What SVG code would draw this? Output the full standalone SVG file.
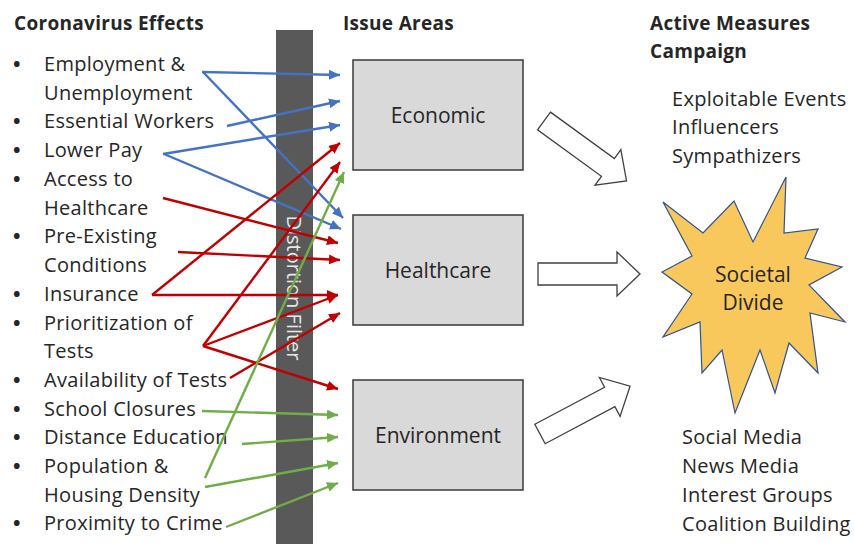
<svg xmlns="http://www.w3.org/2000/svg" width="854" height="544" viewBox="0 0 854 544">
  <style>
    text { font-family: "Open Sans", "Liberation Sans", Arial, sans-serif; fill: #262626; }
    .hd { font-size: 19px; font-weight: bold; letter-spacing: 0.3px; }
    .it { font-size: 20px; letter-spacing: 0.3px; }
    .bul { font-size: 20px; font-weight: bold; }
    .bx { fill: #d9d9d9; stroke: #3a3a3a; stroke-width: 1.5; }
    .lbl { font-size: 21px; text-anchor: middle; }
    .blk { fill: #ffffff; stroke: #404040; stroke-width: 1.3; stroke-linejoin: miter; }
    .c path { fill: none; stroke-width: 2.4; }
    .b { stroke: #4472c4; }
    .r { stroke: #c00000; }
    .g { stroke: #70ad47; }
  </style>
  <defs>
    <marker id="ab" markerUnits="userSpaceOnUse" markerWidth="12" markerHeight="10" refX="11" refY="5" orient="auto">
      <path d="M0,0 L11,5 L0,10 Z" fill="#4472c4"/>
    </marker>
    <marker id="ar" markerUnits="userSpaceOnUse" markerWidth="12" markerHeight="10" refX="11" refY="5" orient="auto">
      <path d="M0,0 L11,5 L0,10 Z" fill="#c00000"/>
    </marker>
    <marker id="ag" markerUnits="userSpaceOnUse" markerWidth="12" markerHeight="10" refX="11" refY="5" orient="auto">
      <path d="M0,0 L11,5 L0,10 Z" fill="#70ad47"/>
    </marker>
    <path id="blockArrow" d="M0,-11 L79,-11 L79,-22 L102,0 L79,22 L79,11 L0,11 Z"/>
  </defs>

  <rect width="854" height="544" fill="#ffffff"/>

  <!-- column headings -->
  <text class="hd" x="14" y="30">Coronavirus Effects</text>
  <text class="hd" x="343" y="30">Issue Areas</text>
  <text class="hd" x="650" y="30">Active Measures</text>
  <text class="hd" x="650" y="58">Campaign</text>

  <!-- effects list -->
  <g id="effects" class="it">
    <g class="bul">
      <text x="13" y="71">•</text>
      <text x="13" y="128">•</text>
      <text x="13" y="157">•</text>
      <text x="13" y="186">•</text>
      <text x="13" y="243">•</text>
      <text x="13" y="301">•</text>
      <text x="13" y="330">•</text>
      <text x="13" y="387">•</text>
      <text x="13" y="416">•</text>
      <text x="13" y="444">•</text>
      <text x="13" y="473">•</text>
      <text x="13" y="530">•</text>
    </g>
    <text x="44" y="71">Employment &amp;</text>
    <text x="44" y="100">Unemployment</text>
    <text x="44" y="128">Essential Workers</text>
    <text x="44" y="157">Lower Pay</text>
    <text x="44" y="186">Access to</text>
    <text x="44" y="215">Healthcare</text>
    <text x="44" y="243">Pre-Existing</text>
    <text x="44" y="272">Conditions</text>
    <text x="44" y="301">Insurance</text>
    <text x="44" y="330">Prioritization of</text>
    <text x="44" y="358">Tests</text>
    <text x="44" y="387">Availability of Tests</text>
    <text x="44" y="416">School Closures</text>
    <text x="44" y="444">Distance Education</text>
    <text x="44" y="473">Population &amp;</text>
    <text x="44" y="502">Housing Density</text>
    <text x="44" y="530">Proximity to Crime</text>
  </g>

  <!-- distortion filter bar -->
  <g id="filter">
    <rect x="276" y="30" width="37" height="514" fill="#595959"/>
    <text x="0" y="0" transform="translate(287,288) rotate(90)" style="font-size:20px;fill:#e8e8e8" text-anchor="middle">Distortion Filter</text>
  </g>

  <!-- issue areas -->
  <g id="economic">
    <rect class="bx" x="353" y="60" width="170" height="110"/>
    <text class="lbl" x="438" y="123">Economic</text>
  </g>
  <g id="healthcare">
    <rect class="bx" x="353" y="215" width="170" height="110"/>
    <text class="lbl" x="438" y="278">Healthcare</text>
  </g>
  <g id="environment">
    <rect class="bx" x="353" y="380" width="170" height="110"/>
    <text class="lbl" x="438" y="443">Environment</text>
  </g>

  <!-- effect-to-area connectors -->
  <g id="connectors" class="c">
    <path class="b" d="M202,72 L340,75" marker-end="url(#ab)"/>
    <path class="b" d="M203,72 L343,218" marker-end="url(#ab)"/>
    <path class="b" d="M227,126 L340,101" marker-end="url(#ab)"/>
    <path class="b" d="M163,154 L340,125" marker-end="url(#ab)"/>
    <path class="b" d="M164,154 L341,229" marker-end="url(#ab)"/>

    <path class="r" d="M163,198 L338,243" marker-end="url(#ar)"/>
    <path class="r" d="M178,252 L340,260" marker-end="url(#ar)"/>
    <path class="r" d="M152,295 L340,143" marker-end="url(#ar)"/>
    <path class="r" d="M152,295 L338,295" marker-end="url(#ar)"/>
    <path class="r" d="M203,346 L340,162" marker-end="url(#ar)"/>
    <path class="r" d="M203,346 L338,295" marker-end="url(#ar)"/>
    <path class="r" d="M203,346 L338,389" marker-end="url(#ar)"/>
    <path class="r" d="M230,378 L340,313" marker-end="url(#ar)"/>

    <path class="g" d="M205,478 L344,172" marker-end="url(#ag)"/>
    <path class="g" d="M205,487 L338,463" marker-end="url(#ag)"/>
    <path class="g" d="M202,411 L338,415" marker-end="url(#ag)"/>
    <path class="g" d="M242,444 L338,437" marker-end="url(#ag)"/>
    <path class="g" d="M226,527 L338,483" marker-end="url(#ag)"/>
  </g>

  <!-- block arrows into the campaign -->
  <g id="flows">
    <use href="#blockArrow" class="blk" transform="translate(544,121) rotate(36)"/>
    <use href="#blockArrow" class="blk" transform="translate(538,274)"/>
    <use href="#blockArrow" class="blk" transform="translate(540,434) rotate(-28)"/>
  </g>

  <!-- campaign inputs and outlets -->
  <g id="inputs" class="it">
    <text x="672" y="106">Exploitable Events</text>
    <text x="672" y="134">Influencers</text>
    <text x="672" y="163">Sympathizers</text>
  </g>
  <g id="outlets" class="it">
    <text x="682" y="444">Social Media</text>
    <text x="682" y="473">News Media</text>
    <text x="682" y="502">Interest Groups</text>
    <text x="682" y="531">Coalition Building</text>
  </g>

  <!-- societal divide burst -->
  <g id="divide">
    <path d="M663,202 L703,233 L734,201 L753,242 L786,177 L784,233 L818,229 L805,258 L842,267 L809,285 L845,322 L810,313 L818,373 L789,343 L775,393 L760,350 L735,413 L722,350 L702,373 L700,322 L663,337 L692,294 L662,272 L692,256 Z" fill="#f9c85c" stroke="#2f528f" stroke-width="1.2" stroke-linejoin="miter"/>
    <text class="lbl" x="753" y="282">Societal</text>
    <text class="lbl" x="753" y="310">Divide</text>
  </g>
</svg>
